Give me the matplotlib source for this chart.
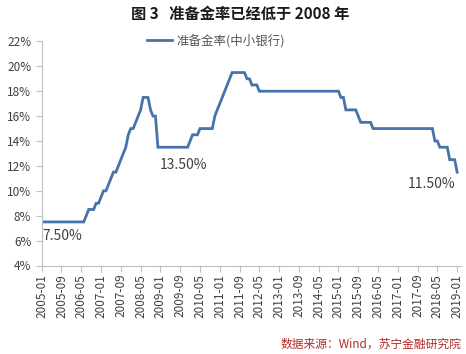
import matplotlib
matplotlib.use("Agg")
import matplotlib.pyplot as plt
import numpy as np

plt.rcParams['font.family'] = ['Noto Sans CJK SC', 'DejaVu Sans']

# Monthly reserve requirement ratio (small & medium banks), 2005-01 .. 2019-01 (%)
y2005 = [7.5, 7.5, 7.5, 7.5, 7.5, 7.5, 7.5, 7.5, 7.5, 7.5, 7.5, 7.5]
y2006 = [7.5, 7.5, 7.5, 7.5, 7.5, 7.5, 8.0, 8.5, 8.5, 8.5, 9.0, 9.0]
y2007 = [9.5, 10.0, 10.0, 10.5, 11.0, 11.5, 11.5, 12.0, 12.5, 13.0, 13.5, 14.5]
y2008 = [15.0, 15.0, 15.5, 16.0, 16.5, 17.5, 17.5, 17.5, 16.5, 16.0, 16.0, 13.5]
y2009 = [13.5, 13.5, 13.5, 13.5, 13.5, 13.5, 13.5, 13.5, 13.5, 13.5, 13.5, 13.5]
y2010 = [14.0, 14.5, 14.5, 14.5, 15.0, 15.0, 15.0, 15.0, 15.0, 15.0, 16.0, 16.5]
y2011 = [17.0, 17.5, 18.0, 18.5, 19.0, 19.5, 19.5, 19.5, 19.5, 19.5, 19.5, 19.0]
y2012 = [19.0, 18.5, 18.5, 18.5, 18.0, 18.0, 18.0, 18.0, 18.0, 18.0, 18.0, 18.0]
y2013 = [18.0, 18.0, 18.0, 18.0, 18.0, 18.0, 18.0, 18.0, 18.0, 18.0, 18.0, 18.0]
y2014 = [18.0, 18.0, 18.0, 18.0, 18.0, 18.0, 18.0, 18.0, 18.0, 18.0, 18.0, 18.0]
y2015 = [18.0, 17.5, 17.5, 16.5, 16.5, 16.5, 16.5, 16.5, 16.0, 15.5, 15.5, 15.5]
y2016 = [15.5, 15.5, 15.0, 15.0, 15.0, 15.0, 15.0, 15.0, 15.0, 15.0, 15.0, 15.0]
y2017 = [15.0, 15.0, 15.0, 15.0, 15.0, 15.0, 15.0, 15.0, 15.0, 15.0, 15.0, 15.0]
y2018 = [15.0, 15.0, 15.0, 14.0, 14.0, 13.5, 13.5, 13.5, 13.5, 12.5, 12.5, 12.5]
y2019 = [11.5]

rrr = y2005 + y2006 + y2007 + y2008 + y2009 + y2010 + y2011 + y2012 + \
      y2013 + y2014 + y2015 + y2016 + y2017 + y2018 + y2019

months = [f"{2005 + i // 12}-{i % 12 + 1:02d}" for i in range(len(rrr))]
tick_labels = months[::8]

yticks = [4, 6, 8, 10, 12, 14, 16, 18, 20, 22]

annotations = [("2005-01", 7.5, "7.50%"), ("2009-01", 13.5, "13.50%"), ("2019-01", 11.5, "11.50%")]

fig = plt.figure(figsize=(4.66, 3.54), dpi=100)
ax = fig.add_axes([0.0895, 0.250, 0.900, 0.633])

x = np.arange(len(rrr))
line, = ax.plot(x, rrr, color='#4673a9', lw=2.0, solid_joinstyle='miter',
                label='准备金率(中小银行)')

ax.set_xlim(0, 169.6)
ax.set_ylim(4, 22)
ax.set_yticks(yticks)
ax.set_yticklabels([f"{v}%" for v in yticks])
ax.set_xticks(x[::8])
ax.set_xticklabels(tick_labels, rotation=90)

for s in ['top', 'right']:
    ax.spines[s].set_visible(False)
for s in ['left', 'bottom']:
    ax.spines[s].set_color('#bfbfbf')
    ax.spines[s].set_linewidth(0.8)
ax.tick_params(axis='both', colors='#bfbfbf', labelcolor='#404040',
               labelsize=8.5, length=4, width=0.8)
ax.tick_params(axis='x', pad=2)

# annotations
ann_off = {"7.50%": (8.2, -1.1), "13.50%": (9.2, -1.45), "11.50%": (-10.2, -0.95)}
for m, v, t in annotations:
    i = months.index(m)
    dx, dy = ann_off[t]
    ax.text(i + dx, v + dy, t, fontsize=10, color='#404040',
            ha='center', va='center')

leg = ax.legend(handles=[line], loc='upper left', bbox_to_anchor=(0.225, 1.085),
                frameon=False, fontsize=9, handlelength=2.0, handletextpad=0.3)
for t in leg.get_texts():
    t.set_color('#595959')

fig.text(0.515, 0.962, '图 3   准备金率已经低于 2008 年', ha='center', va='center',
         fontsize=11, fontweight='bold', color='#1a1a1a')
fig.text(0.99, 0.027, '数据来源：Wind，苏宁金融研究院', ha='right', va='center',
         fontsize=8.5, color='#b22a2a')

fig.savefig('out.png', dpi=100)
